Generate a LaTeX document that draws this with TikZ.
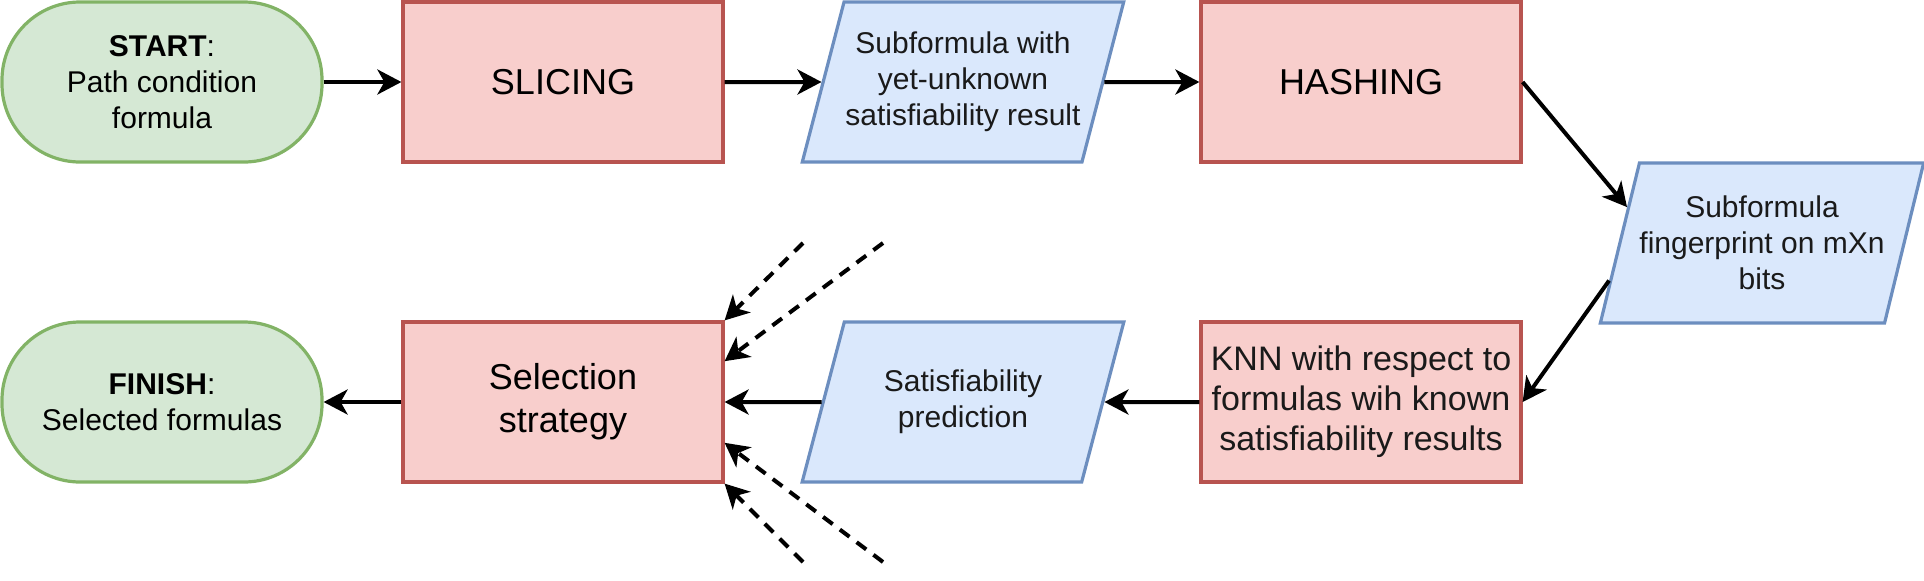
\documentclass[tikz,border=0pt]{standalone}
\usepackage{fontspec}
\setmainfont{Liberation Sans}
\usepackage{xcolor}
\usepackage{tikz}
\usetikzlibrary{arrows.meta,shapes.geometric,calc}

\definecolor{termfill}{HTML}{D5E8D4}
\definecolor{termline}{HTML}{82B366}
\definecolor{procfill}{HTML}{F8CECC}
\definecolor{procline}{HTML}{B85450}
\definecolor{datafill}{HTML}{DAE8FC}
\definecolor{dataline}{HTML}{6C8EBF}
\definecolor{darktext}{HTML}{1A1A1A}

\begin{document}
\begin{tikzpicture}[x=0.5pt,y=-0.5pt,
  term/.style={draw=termline,fill=termfill,line width=1.6pt,rounded corners=39pt,
    minimum width=160pt,minimum height=80pt,align=center,
    font=\fontsize{15pt}{18pt}\selectfont},
  proc/.style={draw=procline,fill=procfill,line width=1.6pt,
    minimum width=160pt,minimum height=80pt,align=center,
    font=\fontsize{18pt}{21.6pt}\selectfont},
  data/.style={trapezium,trapezium left angle=70,trapezium right angle=110,
    trapezium stretches=true,draw=dataline,fill=datafill,line width=1.6pt,
    minimum width=161pt,minimum height=80pt,inner xsep=0pt,align=center,
    text=darktext,font=\fontsize{15pt}{18pt}\selectfont},
  flow/.style={-{Stealth[length=12pt,width=12.5pt,inset=3.5pt]},line width=2pt},
  extra/.style={flow,dash pattern=on 6pt off 4.5pt}]
  \useasboundingbox (0,0) rectangle (1924,580);

  % top row
  \node[term] (start) at (162,82) {\textbf{START}:\\Path condition\\formula};
  \node[proc] (slice) at (563,82) {SLICING};
  \node[data] (unknown) at (963,82) {Subformula with\\yet-unknown\\satisfiability result};
  \node[proc] (hash) at (1361,82) {HASHING};

  \node[data] (print) at (1762,243) {Subformula\\fingerprint on mXn\\bits};

  % bottom row
  \node[proc,text=darktext,font=\fontsize{17pt}{20pt}\selectfont] (knn) at (1361,402)
    {KNN with respect to\\formulas wih known\\satisfiability results};
  \node[data] (predict) at (963,402) {Satisfiability\\prediction};
  \node[proc] (select) at (563,402) {Selection\\strategy};
  \node[term] (finish) at (162,402) {\textbf{FINISH}:\\Selected formulas};

  \draw[flow] (start.east) -- (slice.west);
  \draw[flow] (slice.east) -- (unknown.west);
  \draw[flow] (unknown.east) -- (hash.west);
  \draw[flow] (hash.east) -- ($(print.top left corner)!0.28!(print.bottom left corner)$);
  \draw[flow] ($(print.top left corner)!0.73!(print.bottom left corner)$) -- (knn.east);
  \draw[flow] (knn.west) -- (predict.east);
  \draw[flow] (predict.west) -- (select.east);
  \draw[flow] (select.west) -- (finish.east);

  % other inputs of the selection
  \foreach \i/\sx/\sy/\f in {1/803/243/0,2/883/243/0.25,3/883/562/0.75,4/803/562/1} {
    \coordinate (tail\i) at (\sx,\sy);
    \draw[extra] (tail\i) -- ($(select.north east)!\f!(select.south east)$);
  }
\end{tikzpicture}
\end{document}
